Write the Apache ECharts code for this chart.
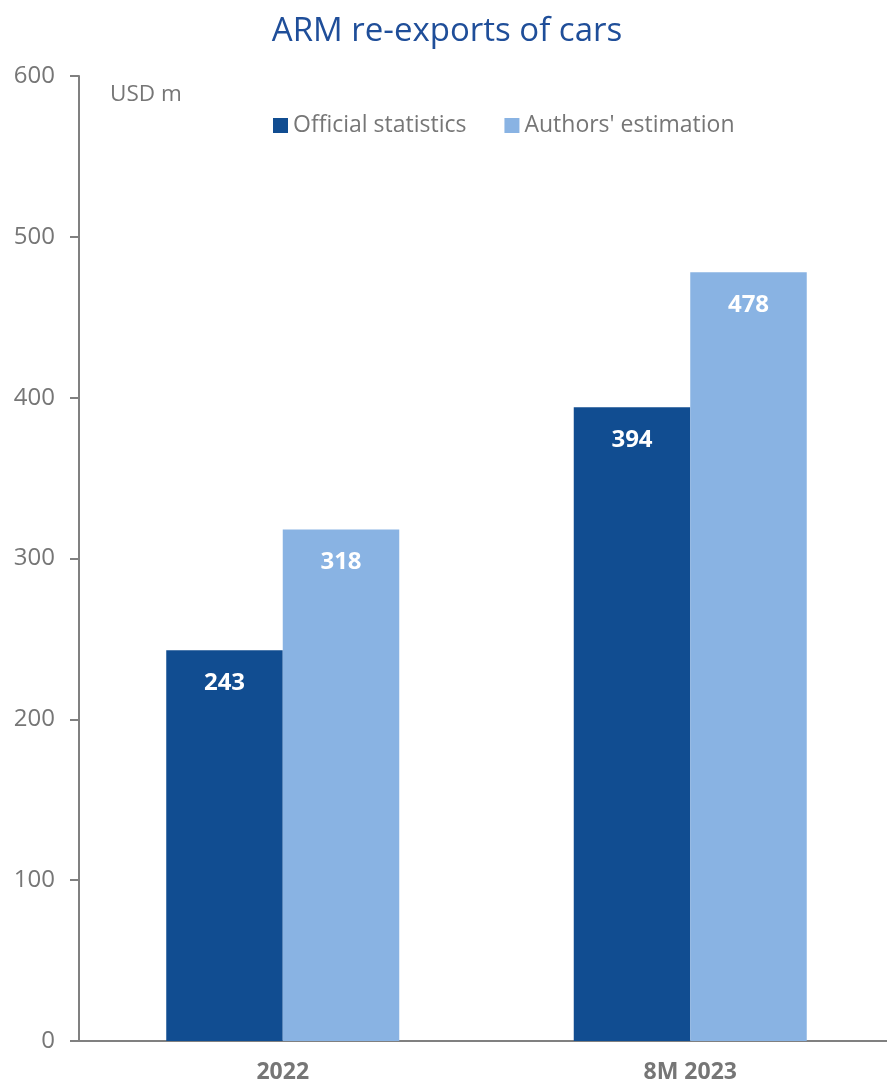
<!DOCTYPE html>
<html><head><meta charset="utf-8">
<script src="https://cdn.jsdelivr.net/npm/echarts@6/dist/echarts.min.js"></script>
<style>html,body{margin:0;padding:0;background:#fff;overflow:hidden}#c{width:894px;height:1085px}</style>
</head><body><div id="c"></div>
<script>
const categories = ['2022', '8M 2023'];
const officialStatistics = [243, 394];
const authorsEstimation = [318, 478];
const yTicks = [0, 100, 200, 300, 400, 500, 600];

const chart = echarts.init(document.getElementById('c'), null, {renderer: 'canvas'});
const grey = '#767676';
const font = 'Open Sans';
const labelOpt = {
  show: true, position: 'insideTop', distance: 21,
  color: '#fff', fontWeight: 'bold', fontSize: 24, fontFamily: font
};
chart.setOption({
  animation: false,
  title: {
    text: 'ARM re-exports of cars', left: 'center', top: 10,
    textStyle: {color: '#1F4E99', fontSize: 33, fontWeight: 'normal', fontFamily: font}
  },
  legend: {
    left: 268, top: 109, itemWidth: 15, itemHeight: 15, itemGap: 38,
    icon: 'rect',
    textStyle: {color: grey, fontSize: 23, fontFamily: font},
    data: ['Official statistics', "Authors' estimation"]
  },
  graphic: [{
    type: 'text', left: 110, top: 83,
    style: {text: 'USD m', fill: grey, font: '22.5px "Open Sans"'}
  }],
  grid: {left: 79, right: 0, top: 76, bottom: 44, containLabel: false},
  xAxis: {
    type: 'category', data: categories,
    axisLine: {lineStyle: {color: '#808080', width: 2}},
    axisTick: {show: false},
    axisLabel: {color: grey, fontSize: 23, fontWeight: 'bold', fontFamily: font, margin: 20}
  },
  yAxis: {
    type: 'value', min: yTicks[0], max: yTicks[yTicks.length - 1], interval: 100,
    axisLine: {show: true, lineStyle: {color: '#808080', width: 2}},
    axisTick: {show: true, length: 9, lineStyle: {color: '#808080', width: 2}},
    splitLine: {show: false},
    axisLabel: {color: grey, fontSize: 24, fontFamily: font, margin: 24}
  },
  series: [
    {name: 'Official statistics', type: 'bar', data: officialStatistics, barWidth: 116.5, barGap: '0%',
     itemStyle: {color: '#114D91'}, label: labelOpt},
    {name: "Authors' estimation", type: 'bar', data: authorsEstimation, barWidth: 116.5, barGap: '0%',
     itemStyle: {color: '#89B3E3'}, label: labelOpt}
  ]
});
</script></body></html>
